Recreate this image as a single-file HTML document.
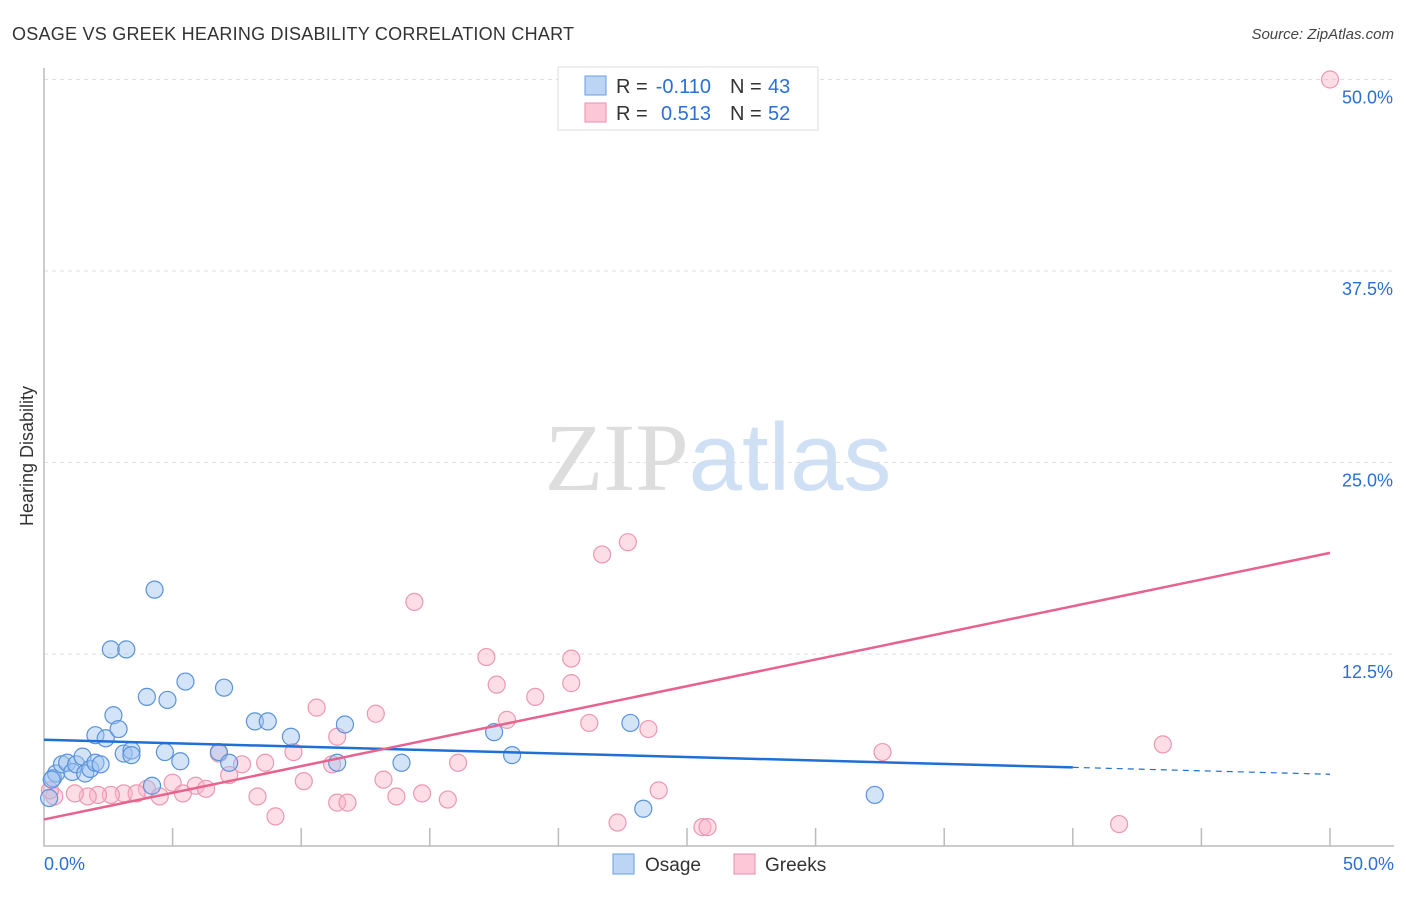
<!DOCTYPE html>
<html><head><meta charset="utf-8"><style>
body{margin:0;background:#fff;font-family:"Liberation Sans",sans-serif}
</style></head><body>
<svg id="chart" width="1406" height="892" xmlns="http://www.w3.org/2000/svg" font-family="Liberation Sans, sans-serif">
<text x="12" y="40" font-size="18" fill="#333" textLength="562">OSAGE VS GREEK HEARING DISABILITY CORRELATION CHART</text>
<text x="1394" y="39" font-size="15" fill="#444" text-anchor="end" font-style="italic">Source: ZipAtlas.com</text>
<text x="718" y="490" font-size="96" text-anchor="middle"><tspan fill="#ddd" font-family="Liberation Serif, serif">ZIP</tspan><tspan fill="#cfe0f5">atlas</tspan></text>
<text transform="translate(33,456) rotate(-90)" font-size="18" fill="#333" text-anchor="middle">Hearing Disability</text>
<g id="grid"></g><g id="pts"></g><g id="lines"></g>
<g>
<rect x="558" y="67" width="260" height="63" fill="#fff" stroke="#ddd"/>
<rect x="585" y="76" width="21" height="19" fill="#bcd5f5" stroke="#6a9de0"/>
<rect x="585" y="103" width="21" height="19" fill="#fcc8d8" stroke="#ea8fab"/>
<text x="616" y="93" font-size="20" fill="#333">R =</text>
<text x="711" y="93" font-size="20" fill="#2a6fd6" text-anchor="end">-0.110</text>
<text x="730" y="93" font-size="20" fill="#333">N =</text>
<text x="768" y="93" font-size="20" fill="#2a6fd6">43</text>
<text x="616" y="120" font-size="20" fill="#333">R =</text>
<text x="711" y="120" font-size="20" fill="#2a6fd6" text-anchor="end">0.513</text>
<text x="730" y="120" font-size="20" fill="#333">N =</text>
<text x="768" y="120" font-size="20" fill="#2a6fd6">52</text>
</g>
<g>
<rect x="613" y="854" width="21" height="20" fill="#bcd5f5" stroke="#6a9de0"/>
<text x="645" y="871" font-size="19" fill="#333">Osage</text>
<rect x="734" y="854" width="21" height="20" fill="#fcc8d8" stroke="#ea8fab"/>
<text x="765" y="871" font-size="19" fill="#333">Greeks</text>
</g>
</svg>
<script>
const yTicks=[12.5,25,37.5,50];
const yTickLabels=["12.5%","25.0%","37.5%","50.0%"];
const osageX=[0.2,0.35,0.47,0.7,0.9,1.1,1.25,1.5,1.6,1.8,2.0,2.2,2.0,2.4,2.7,2.9,3.1,3.4,3.4,2.6,3.2,4.0,4.3,4.8,4.7,5.3,5.5,7.0,6.8,7.2,8.2,8.7,9.6,11.7,11.4,13.9,17.5,18.2,22.8,23.3,32.3,4.2,0.3];
const osageY=[3.1,4.4,4.7,5.3,5.4,4.8,5.3,5.8,4.7,5.0,5.4,5.3,7.2,7.0,8.5,7.6,6.0,6.2,5.9,12.8,12.8,9.7,16.7,9.5,6.1,5.5,10.7,10.3,6.1,5.4,8.1,8.1,7.1,7.9,5.4,5.4,7.4,5.9,8.0,2.4,3.3,3.9,4.3];
const greekX=[50,21.7,22.7,14.4,17.2,20.5,17.6,20.5,19.1,18.0,21.2,23.5,10.6,12.9,11.4,9.7,11.2,6.8,7.7,8.6,7.2,16.1,13.2,10.1,5.0,5.9,6.3,4.0,4.5,5.4,3.1,3.6,2.6,2.1,1.7,1.2,0.4,0.23,8.3,11.4,11.8,13.7,14.7,15.7,22.3,23.9,25.6,25.8,9.0,43.5,32.6,41.8];
const greekY=[50,19.0,19.8,15.9,12.3,12.2,10.5,10.6,9.7,8.2,8.0,7.6,9.0,8.6,7.1,6.1,5.3,6.0,5.3,5.4,4.6,5.4,4.3,4.2,4.1,3.9,3.7,3.7,3.2,3.4,3.4,3.4,3.3,3.3,3.2,3.4,3.2,3.6,3.2,2.8,2.8,3.2,3.4,3.0,1.5,3.6,1.2,1.2,1.9,6.6,6.1,1.4];
const osageFit=[6.9,5.1];  // at x=0 and x=40
const greekFit=[1.7,19.1]; // at x=0 and x=50
const X=v=>44+v*25.72, Y=v=>845.5-v*15.32;
const NS="http://www.w3.org/2000/svg";
function mk(tag,attrs,parent){const e=document.createElementNS(NS,tag);for(const k in attrs)e.setAttribute(k,attrs[k]);parent.appendChild(e);return e;}
const grid=document.getElementById('grid');
yTicks.forEach((t,i)=>{
 const l=mk('line',{x1:44,x2:1394,y1:Y(t),y2:Y(t),stroke:'#ddd','stroke-dasharray':'4,4'},grid);
 
 
 const tx=mk('text',{x:1393,y:Y(t)+24,'font-size':18,fill:'#2a6fd6','text-anchor':'end'},grid);
 tx.textContent=yTickLabels[i];
 
 
});
const ax=mk('path',{d:'M44,68 V846 H1394',fill:'none',stroke:'#bbb','stroke-width':1.5},grid);


for(let i=1;i<=10;i++){const t=mk('line',{x1:X(i*5),x2:X(i*5),y1:828,y2:846,stroke:'#bbb','stroke-width':1.5},grid);
 
 }
[["0.0%",44,'start'],["50.0%",1394,'end']].forEach(a=>{const t=mk('text',{x:a[1],y:870,'font-size':18,fill:'#2a6fd6','text-anchor':a[2]},grid);t.textContent=a[0];
 
 });
const pts=document.getElementById('pts');
greekX.forEach((x,i)=>{const c=mk('circle',{cx:X(x),cy:Y(greekY[i]),r:8.5,fill:'rgba(250,180,200,0.45)',stroke:'#ec98b2','stroke-width':1.2},pts);
 
 });
osageX.forEach((x,i)=>{const c=mk('circle',{cx:X(x),cy:Y(osageY[i]),r:8.5,fill:'rgba(160,195,240,0.45)',stroke:'#5a92dc','stroke-width':1.2},pts);
 
 });
const lines=document.getElementById('lines');
const ob=mk('line',{x1:X(0),y1:Y(osageFit[0]),x2:X(40),y2:Y(osageFit[1]),stroke:'#1f6fd6','stroke-width':2.5},lines);


const slope=(osageFit[1]-osageFit[0])/40;
const od=mk('line',{x1:X(40),y1:Y(osageFit[1]),x2:X(50),y2:Y(osageFit[1]+slope*10),stroke:'#1f6fd6','stroke-width':1.2,'stroke-dasharray':'6,5'},lines);


const gl=mk('line',{x1:X(0),y1:Y(greekFit[0]),x2:X(50),y2:Y(greekFit[1]),stroke:'#e8628e','stroke-width':2.5},lines);


</script>
</body></html>
